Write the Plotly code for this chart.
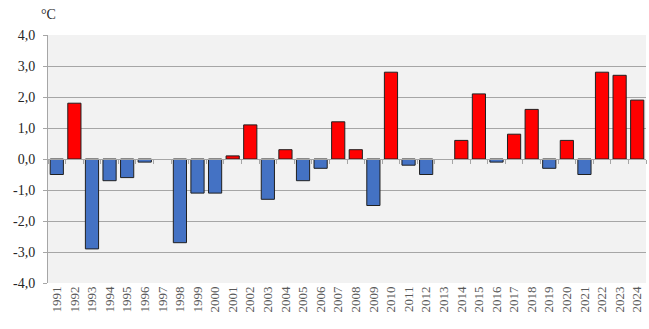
import plotly.graph_objects as go

years = [str(y) for y in range(1991, 2025)]
anomalies = [-0.5, 1.8, -2.9, -0.7, -0.6, -0.1, 0.0, -2.7, -1.1, -1.1,
             0.1, 1.1, -1.3, 0.3, -0.7, -0.3, 1.2, 0.3, -1.5, 2.8,
             -0.2, -0.5, 0.0, 0.6, 2.1, -0.1, 0.8, 1.6, -0.3, 0.6,
             -0.5, 2.8, 2.7, 1.9]
y_ticks = [-4, -3, -2, -1, 0, 1, 2, 3, 4]
y_labels = ["-4,0", "-3,0", "-2,0", "-1,0", "0,0", "1,0", "2,0", "3,0", "4,0"]
unit = "°C"

colors = ["#FF0000" if v > 0 else "#4472C4" for v in anomalies]
outlines = ["rgba(0,0,0,0)" if v == 0 else "#202020" for v in anomalies]

fig = go.Figure()
fig.add_trace(go.Bar(x=years, y=anomalies, marker=dict(color=colors, line=dict(color=outlines, width=1)),
                     width=0.75, showlegend=False))
fig.add_trace(go.Bar(x=years, y=anomalies, xaxis="x2", opacity=0, showlegend=False, hoverinfo="skip"))

serif = "Liberation Serif, DejaVu Serif, serif"
fig.update_layout(
    width=649, height=329,
    margin=dict(l=48, r=3, t=35, b=46),
    paper_bgcolor="white",
    plot_bgcolor="#F2F2F2",
    bargap=0.25,
    font=dict(family=serif),
    xaxis=dict(type="category", showgrid=False, ticks="", showline=False, zeroline=False,
               tickangle=-90, tickfont=dict(family=serif, size=13, color="#595959")),
    xaxis2=dict(type="category", overlaying="x", matches="x", anchor="free", position=0.5, side="bottom",
                showticklabels=False, ticks="outside", ticklen=4, tickcolor="#A6A6A6",
                tickson="boundaries", showline=True, linecolor="#A6A6A6", linewidth=1, showgrid=False),
    yaxis=dict(range=[-4, 4], tickvals=y_ticks, ticktext=y_labels, showgrid=True, gridcolor="#A6A6A6",
               gridwidth=1, zeroline=False, showline=True, linecolor="#A6A6A6", ticks="outside",
               ticklen=4, tickcolor="#A6A6A6", ticklabelstandoff=5,
               tickfont=dict(family=serif, size=14, color="#262626")),
    annotations=[dict(text=unit, xref="paper", yref="paper", x=0.0, y=1.045, xanchor="center",
                      yanchor="bottom", showarrow=False, font=dict(family=serif, size=14, color="#262626"))],
)
fig.write_html("out.html")
